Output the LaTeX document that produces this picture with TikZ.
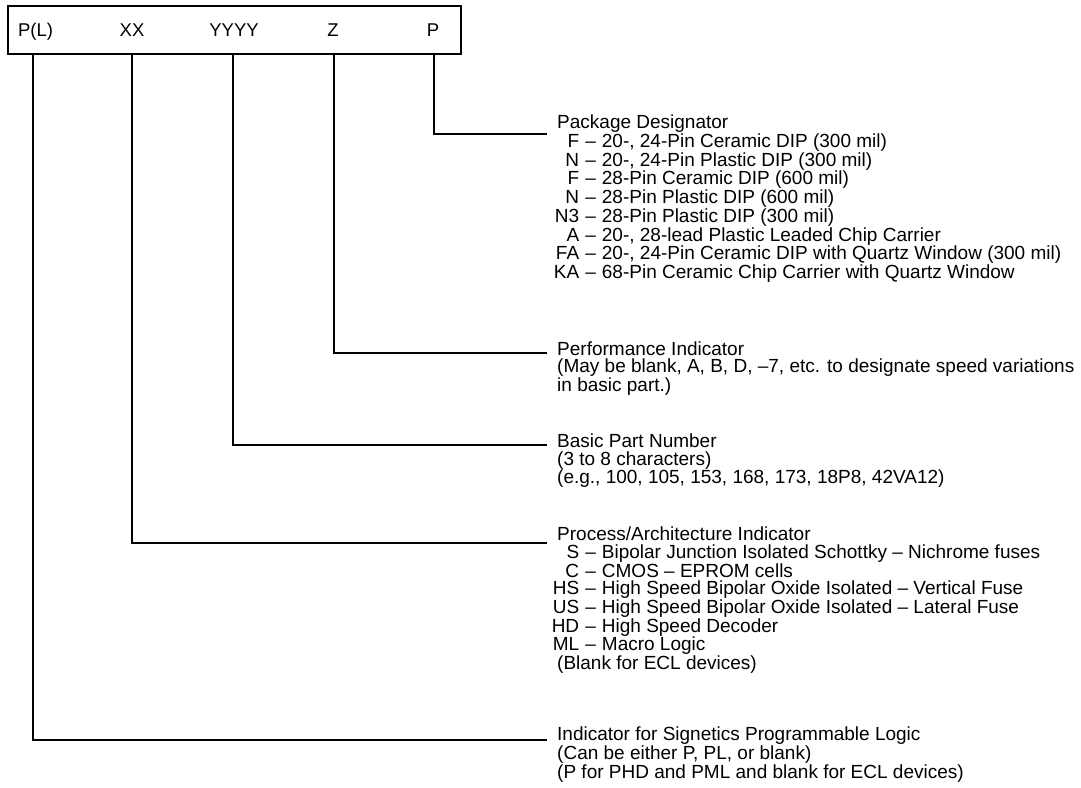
\documentclass[tikz,border=0pt]{standalone}
\usepackage{fontspec}
\setmainfont{Liberation Sans}
\newcommand\itm[1]{\makebox[22pt][r]{#1}\hspace{0.32em}--\hspace{0.32em}}
\begin{document}
\begin{tikzpicture}[x=1pt,y=-1pt,
  conn/.style={line width=1.6pt, line join=miter},
  lbl/.style={font=\fontsize{18.5}{20}\selectfont, anchor=base, inner sep=0pt},
  desc/.style={font=\fontsize{19}{17.6}\selectfont, align=left, anchor=base west, inner sep=0pt}]
\useasboundingbox (0,0) rectangle (1081,787);
\node[draw, line width=2pt, minimum width=453pt, minimum height=48pt, anchor=north west, inner sep=0pt] (box) at (7,5) {};
% field labels
\node[lbl] (fPL) at (35.5,36) {P(L)};
\node[lbl] (fXX) at (132,36) {XX};
\node[lbl] (fY) at (234,36) {YYYY};
\node[lbl] (fZ) at (333,36) {Z};
\node[lbl] (fP) at (433,36) {P};
% taps on the box bottom
\coordinate (tPL) at (33,53);
\coordinate (tXX) at (132,53);
\coordinate (tY) at (233,53);
\coordinate (tZ) at (334,53);
\coordinate (tP) at (434,53);
% line ends
\coordinate (eP) at (547,134);
\coordinate (eZ) at (547,353);
\coordinate (eY) at (547,445);
\coordinate (eXX) at (547,543);
\coordinate (ePL) at (547,740);
% descriptions (anchored at the baseline of their last line)
\node[desc] (dP) at (557,278.5) {Package Designator\\
\itm{F}20-, 24-Pin Ceramic DIP (300 mil)\\
\itm{N}20-, 24-Pin Plastic DIP (300 mil)\\
\itm{F}28-Pin Ceramic DIP (600 mil)\\
\itm{N}28-Pin Plastic DIP (600 mil)\\
\itm{N3}28-Pin Plastic DIP (300 mil)\\
\itm{A}20-, 28-lead Plastic Leaded Chip Carrier\\
\itm{FA}20-, 24-Pin Ceramic DIP with Quartz Window (300 mil)\\
\itm{KA}68-Pin Ceramic Chip Carrier with Quartz Window};
\node[desc] (dZ) at (557,391.7) {Performance Indicator\\
(May be blank, A, B, D, --7, etc. to designate speed variations\\
in basic part.)};
\node[desc] (dY) at (557,483.7) {Basic Part Number\\
(3 to 8 characters)\\
(e.g., 100, 105, 153, 168, 173, 18P8, 42VA12)};
\node[desc] (dXX) at (557,669.7) {Process/Architecture Indicator\\
\itm{S}Bipolar Junction Isolated Schottky -- Nichrome fuses\\
\itm{C}CMOS -- EPROM cells\\
\itm{HS}High Speed Bipolar Oxide Isolated -- Vertical Fuse\\
\itm{US}High Speed Bipolar Oxide Isolated -- Lateral Fuse\\
\itm{HD}High Speed Decoder\\
\itm{ML}Macro Logic\\
(Blank for ECL devices)};
\node[desc] (dPL) at (557,778) {Indicator for Signetics Programmable Logic\\
(Can be either P, PL, or blank)\\
(P for PHD and PML and blank for ECL devices)};
% connectors
\draw[conn] (tP) |- (eP);
\draw[conn] (tZ) |- (eZ);
\draw[conn] (tY) |- (eY);
\draw[conn] (tXX) |- (eXX);
\draw[conn] (tPL) |- (ePL);
\end{tikzpicture}
\end{document}
